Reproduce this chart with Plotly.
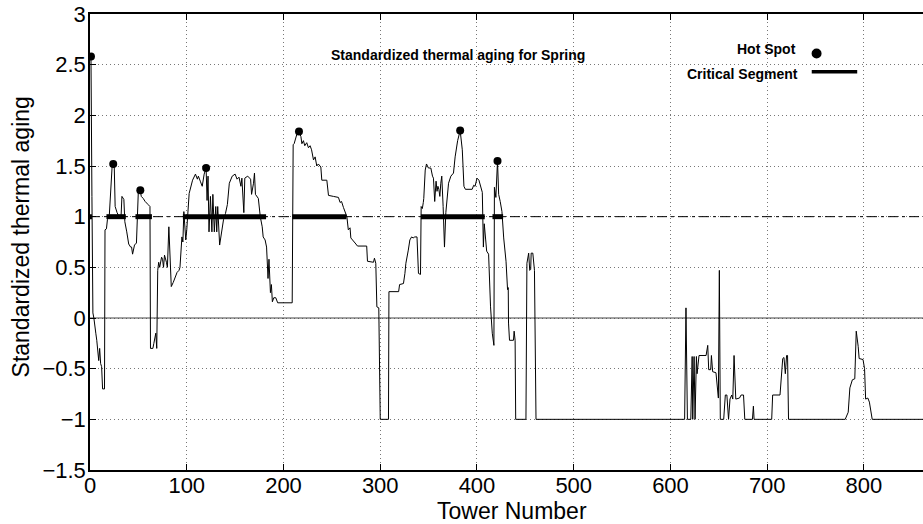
import plotly.graph_objects as go

# ---- data ----
tower = [0, 1, 2, 3, 4, 5, 6, 7, 8, 9, 10, 11, 12, 13, 15, 15.5, 17, 18, 20, 22, 23, 25, 26, 28, 30, 32, 33, 35, 36, 38,
         40, 42, 43, 44, 46, 48, 49, 50, 52, 53, 55, 57, 60, 62, 62.5, 65, 66, 67, 68, 69, 70, 71, 72, 74, 75, 76, 77, 79,
         80, 81.5, 83, 84, 86, 88, 90, 92, 93, 95, 96, 97, 98, 99, 100, 101, 102.5, 106, 109, 111, 112, 114, 116, 118,
         120, 121, 122, 123, 124.5, 126, 127, 128.5, 130, 131, 132, 134, 136, 138, 140, 142, 144, 147, 150, 152, 154,
         156, 157, 159, 160, 163, 166, 167, 169, 170, 171, 174, 176, 178, 179, 181, 182.5, 184, 185, 185.5, 186.5,
         187.5, 188.5, 190, 192, 194, 200, 209, 210, 211, 213.7, 216, 218, 219, 220.6, 222, 224, 225.8, 227.5, 229, 231,
         232.7, 234.4, 236, 238.6, 239.6, 244.8, 246.5, 251.6, 256.8, 258.5, 260, 262, 263.7, 265.5, 267, 268.8, 269.6,
         271.7, 274, 276.5, 286, 286.8, 293, 294, 295.4, 296.5, 298.5, 300, 308.5, 309, 319, 320, 324, 325.5, 326.5,
         329, 330.6, 332.4, 334, 335.7, 338, 339.5, 341.6, 342.3, 343.5, 344.5, 345, 346.5, 347.8, 349.8, 352.3, 354,
         355, 356.3, 357.7, 358.7, 359.6, 360.6, 361.6, 362.6, 363.6, 365, 366.4, 367.8, 369, 370.6, 373, 375.7, 377.4,
         380, 382.6, 384.8, 386.5, 388, 395, 396.6, 398, 400, 402, 403.5, 405.5, 406.6, 407.5, 409, 410, 412, 414,
         415.8, 417.5, 418, 419.5, 421.2, 422.4, 424, 425.8, 427.6, 430, 431.6, 432, 432.3, 432.6, 433.6, 437.7, 438.4,
         439.4, 440, 450.6, 451.6, 453.4, 454.5, 455.5, 456, 457.7, 459.4, 461, 614.6, 616, 617.5, 621, 622.4, 623,
         624.4, 625.4, 626.8, 627.5, 629.5, 636.8, 638.5, 639.5, 641.6, 642.3, 643.6, 647, 649.5, 650.5, 651.5, 655,
         656.7, 658.3, 660, 661.5, 663.3, 664.4, 665.7, 667.5, 671.3, 673, 675.5, 676.8, 684.7, 685.7, 686.4, 704.6,
         705.6, 713.2, 716, 717.3, 718.7, 720, 721, 722, 780.6, 783.7, 785.4, 788, 790.5, 792, 794, 795, 799, 800.6,
         801.7, 804, 805.6, 808.5, 861]
aging = [2.58, 2.58, 1.2, 0.05, 0.0, -0.12, -0.15, -0.22, -0.3, -0.42, -0.3, -0.45, -0.48, -0.7, -0.7, 0.87, 0.88, 0.97,
         1.02, 1.3, 1.52, 1.52, 1.1, 1.04, 1.0, 0.98, 1.2, 1.17, 0.95, 0.85, 0.73, 0.7, 0.7, 0.63, 0.72, 0.74, 1.0, 1.26,
         1.26, 1.2, 1.18, 1.15, 1.12, 1.1, -0.3, -0.3, -0.25, -0.2, -0.15, -0.3, 0.47, 0.55, 0.5, 0.6, 0.58, 0.5, 0.62,
         0.55, 0.5, 0.9, 0.4, 0.31, 0.35, 0.4, 0.45, 0.47, 0.5, 0.8, 0.75, 1.05, 0.9, 0.77, 0.87, 1.07, 1.23, 1.36, 1.42,
         1.37, 1.4, 1.35, 1.3, 1.42, 1.48, 1.16, 1.4, 0.85, 1.2, 0.85, 1.22, 0.85, 1.1, 0.85, 1.1, 0.72, 0.85, 0.97,
         1.03, 1.12, 1.33, 1.4, 1.42, 1.37, 1.39, 1.3, 1.38, 1.04, 1.38, 1.4, 1.37, 1.22, 1.33, 1.43, 1.22, 1.18, 1.0,
         0.9, 0.8, 0.77, 0.7, 0.39, 0.58, 0.35, 0.25, 0.33, 0.16, 0.2, 0.2, 0.15, 0.15, 0.15, 1.71, 1.72, 1.81, 1.84,
         1.79, 1.72, 1.75, 1.70, 1.73, 1.68, 1.70, 1.66, 1.56, 1.59, 1.50, 1.52, 1.49, 1.36, 1.36, 1.21, 1.2, 1.19, 1.14,
         1.15, 1.09, 1.05, 1.0, 0.87, 0.89, 0.79, 0.77, 0.74, 0.71, 0.71, 0.56, 0.55, 0.59, 0.54, 0.11, 0.1, -1.0, -1.0,
         0.26, 0.26, 0.33, 0.34, 0.44, 0.54, 0.67, 0.77, 0.80, 0.79, 0.80, 0.80, 0.44, 0.43, 1.10, 1.08, 1.14, 1.18,
         1.46, 1.52, 1.48, 1.48, 1.40, 1.38, 1.15, 1.35, 1.25, 1.3, 1.27, 1.2, 1.33, 1.40, 1.1, 0.70, 1.04, 1.2, 1.33,
         1.40, 1.43, 1.59, 1.75, 1.85, 1.66, 1.30, 1.27, 1.27, 1.31, 1.30, 1.38, 1.36, 1.31, 1.24, 0.70, 0.93, 0.77,
         0.66, 0.63, 0.11, -0.15, -0.27, 1.29, 1.19, 1.55, 1.22, 1.15, 1.05, 0.79, 0.56, 0.28, -0.05, 0.3, -0.05, -0.22,
         -0.22, -0.13, -0.22, -1.0, -1.0, 0.54, 0.64, 0.47, 0.48, 0.64, 0.64, 0.47, -1.0, -1.0, 0.1, -1, -1, -0.38, -1,
         -0.38, -1, -0.38, -0.55, -0.37, -0.37, -0.27, -0.51, -0.51, -0.37, -0.53, -0.54, -0.79, 0.47, -1, -1, -0.76,
         -0.76, -1, -0.8, -0.76, -0.8, -0.37, -0.8, -0.79, -0.76, -0.76, -1, -1, -0.87, -1, -1, -0.76, -0.76, -0.4,
         -0.39, -0.55, -0.37, -0.37, -1, -1, -0.93, -0.69, -0.61, -0.6, -0.13, -0.28, -0.4, -0.41, -0.5, -0.8, -0.79,
         -0.83, -1, -1]

hot_x = [1, 24, 52, 120, 216, 382.6, 421.2]
hot_y = [2.58, 1.52, 1.26, 1.48, 1.84, 1.85, 1.55]

crit_start = [0, 17, 47, 96, 209, 342, 416]
crit_end = [2, 37, 64, 182, 265, 408, 427]
threshold = 1.0

x_min, x_max = 0, 861
y_ticks = [-1.5, -1, -0.5, 0, 0.5, 1, 1.5, 2, 2.5, 3]
x_ticks = [0, 100, 200, 300, 400, 500, 600, 700, 800]

FONT = "Liberation Sans, Arial, Helvetica, sans-serif"

cx, cy = [], []
for s, e in zip(crit_start, crit_end):
    cx += [s, e, None]
    cy += [threshold, threshold, None]

fig = go.Figure()
fig.add_trace(go.Scatter(x=[x_min, x_max], y=[0, 0], mode="lines",
                         line=dict(color="#444", width=1), hoverinfo="skip"))
fig.add_trace(go.Scatter(x=[x_min, x_max], y=[threshold, threshold], mode="lines",
                         line=dict(color="black", width=1, dash="10px,4px,3px,4px"), hoverinfo="skip"))
fig.add_trace(go.Scatter(x=cx, y=cy, mode="lines", line=dict(color="black", width=5)))
fig.add_trace(go.Scatter(x=tower, y=aging, mode="lines", line=dict(color="black", width=1)))
fig.add_trace(go.Scatter(x=hot_x, y=hot_y, mode="markers", marker=dict(color="black", size=8)))

fig.update_layout(
    width=923, height=524,
    margin=dict(l=90, r=0, t=14, b=54),
    paper_bgcolor="white", plot_bgcolor="white",
    showlegend=False,
    font=dict(family=FONT, size=20, color="black"),
)
fig.update_xaxes(range=[x_min, x_max], tickvals=x_ticks, ticks="inside", ticklen=6, tickwidth=1,
                 tickcolor="black", showline=True, linecolor="black", linewidth=1.5, mirror="ticks",
                 showgrid=True, gridcolor="#777", griddash="1px,3px", gridwidth=1, zeroline=False,
                 tickfont=dict(size=22), ticklabelstandoff=-5)
fig.update_yaxes(range=[-1.5, 3], tickvals=y_ticks, ticks="inside", ticklen=6, tickwidth=1,
                 tickcolor="black", showline=True, linecolor="black", linewidth=1.5, mirror=False,
                 showgrid=True, gridcolor="#777", griddash="1px,3px", gridwidth=1, zeroline=False,
                 tickfont=dict(size=22), ticklabelstandoff=-2)

fig.add_annotation(x=380, y=2.595, xref="x", yref="y", text="<b>Standardized thermal aging for Spring</b>",
                   showarrow=False, font=dict(size=14), xanchor="center", yanchor="middle")
fig.add_annotation(x=732, y=2.65, xref="x", yref="y", text="<b>Hot Spot</b>",
                   showarrow=False, font=dict(size=14), xanchor="right", yanchor="middle")
fig.add_annotation(x=734, y=2.41, xref="x", yref="y", text="<b>Critical Segment</b>",
                   showarrow=False, font=dict(size=14), xanchor="right", yanchor="middle")
fig.add_shape(type="circle", xref="x", yref="y", xsizemode="pixel", ysizemode="pixel",
              xanchor=751, yanchor=2.61, x0=-5, x1=5, y0=-5, y1=5,
              fillcolor="black", line=dict(color="black", width=0))
fig.add_shape(type="line", xref="x", yref="y", x0=746, x1=793, y0=2.43, y1=2.43,
              line=dict(color="black", width=3.5))

fig.add_annotation(x=(512 - 90) / 833, y=-0.09, xref="paper", yref="paper", text="Tower Number",
                   showarrow=False, font=dict(size=23), xanchor="center", yanchor="middle")
fig.add_annotation(x=(21 - 90) / 833, y=0.51, xref="paper", yref="paper", text="Standardized thermal aging",
                   showarrow=False, font=dict(size=23), textangle=-90, xanchor="center", yanchor="middle")

fig.write_html("out.html")
